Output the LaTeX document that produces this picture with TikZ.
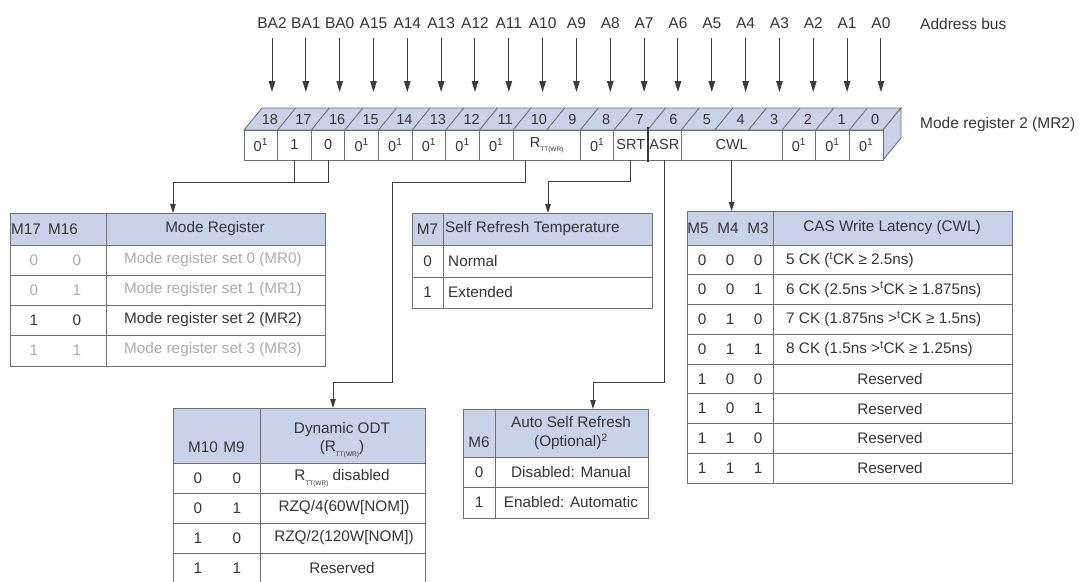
\documentclass[tikz,border=0pt]{standalone}
\usepackage{fontspec}
\setmainfont{Liberation Sans}
\usetikzlibrary{arrows.meta}
\definecolor{headblue}{HTML}{C8D2E8}
\definecolor{linegray}{HTML}{707070}
\definecolor{txt}{HTML}{353535}
\definecolor{dimtxt}{HTML}{ADADAD}
\definecolor{wire}{HTML}{3C3C3C}
\newcommand{\rtt}{R\raisebox{-0.55ex}{\fontsize{6.5}{6.5}\selectfont TT(WR)}}
\newcommand{\zo}{0\textsuperscript{1}}
\begin{document}
\begin{tikzpicture}[x=1pt,y=-1pt,font=\fontsize{15.3}{18}\selectfont,
 every node/.style={inner sep=0pt,text=txt},
 busarrow/.style={draw=wire,line width=1pt,-{Triangle[width=6.5pt,length=11pt]}},
 wirearrow/.style={draw=wire,line width=0.9pt,-{Triangle[width=5.5pt,length=9pt]}},
 wireline/.style={draw=wire,line width=0.9pt},
 regcell/.style={draw=linegray,fill=white,minimum height=30pt,line width=0.9pt,font=\fontsize{14.5}{15}\selectfont},
 tline/.style={draw=linegray,line width=1pt},
 lbl/.style={anchor=base west,font=\fontsize{15.5}{18}\selectfont}]
\useasboundingbox (0,0) rectangle (1081,581);
\fill[white] (0,0) rectangle (1081,581);

% ---------- address bus ----------
\foreach \b/\lab in {18/BA2,17/BA1,16/BA0,15/A15,14/A14,13/A13,12/A12,11/A11,10/A10,9/A9,8/A8,7/A7,6/A6,5/A5,4/A4,3/A3,2/A2,1/A1,0/A0}{
  \pgfmathsetmacro\ax{272+(18-\b)*33.83}
  \node[anchor=base,font=\fontsize{15.5}{18}\selectfont] (a\b) at (\ax,28.5) {\lab};
  \coordinate (p\b) at (\ax,92);
  \draw[busarrow,shorten <=9.5pt] (a\b.south) -- (p\b);
}
\node[lbl] (abus) at (920,29.5) {Address bus};
\node[lbl] (mrlab) at (920,128) {Mode register 2 (MR2)};

% ---------- register ----------
\draw[fill=headblue,draw=linegray,line width=0.9pt] (244,130) -- (262,108) -- (901,108) -- (883,130) -- cycle;
\draw[fill=headblue,draw=linegray,line width=0.9pt] (883,130) -- (901,108) -- (901,138) -- (883,160) -- cycle;
\foreach \i in {1,...,18}{
  \pgfmathsetmacro\sx{244+\i*33.63}
  \draw[linegray,line width=0.9pt] (\sx,130) -- (\sx+18,108);
}
\foreach \b in {0,...,18}{
  \pgfmathsetmacro\nx{244+(18.5-\b)*33.63+9}
  \node[font=\fontsize{14.5}{15}\selectfont] (t\b) at (\nx,119.5) {\b};
}
\foreach \nm/\hi/\n/\tx in {18/18/1/\zo,17/17/1/1,16/16/1/0,15/15/1/\zo,14/14/1/\zo,13/13/1/\zo,12/12/1/\zo,11/11/1/\zo,RTT/10/2/\rtt,8/8/1/\zo,SRT/7/1/SRT,ASR/6/1/ASR,CWL/5/3/CWL,2/2/1/\zo,1/1/1/\zo,0/0/1/\zo}{
  \pgfmathsetmacro\cx{244+(18-\hi+\n/2)*33.63}
  \pgfmathsetmacro\cwd{\n*33.63}
  \node[regcell,minimum width=\cwd pt] (r\nm) at (\cx,145) {\tx};
}
\draw[draw=wire,line width=1.5pt] ([yshift=3pt]rSRT.north east) -- ([yshift=-2pt]rSRT.south east);

% ---------- connectors ----------
\coordinate (jMR) at (173,182);
\coordinate (inMR) at (173,213);
\draw[wireline] (r17.south) -- (r17.south |- jMR);
\draw[wirearrow] (r16.south) |- (jMR) -- (inMR);

\coordinate (rttOut) at ([xshift=13pt]rRTT.south west);
\coordinate (b1) at (392,182);
\coordinate (b2) at (333,382);
\coordinate (inODT) at (333,408);
\draw[wirearrow] (rttOut) |- (b1) |- (b2) -- (inODT);

\coordinate (b3) at (548,181);
\coordinate (inSRT) at (548,213);
\draw[wirearrow] (rSRT.south) |- (b3) -- (inSRT);

\coordinate (b4) at (593,382);
\coordinate (inASR) at (593,409);
\draw[wirearrow] (rASR.south) |- (b4) -- (inASR);

\coordinate (inCWL) at (rCWL.south |- 0,211);
\draw[wirearrow] (rCWL.south) -- (inCWL);

% ---------- Mode Register table ----------
\fill[headblue] (10,213) rectangle (325,245);
\draw[tline] (10,213) rectangle (325,366);
\foreach \y in {245,275,305,335} \draw[tline] (10,\y) -- (325,\y);
\draw[tline] (106,213) -- (106,366);
\node (mrh1) at (26,229) {M17};
\node (mrh2) at (63,229) {M16};
\node (mrh3) at (215,229) {Mode Register};
\foreach \k/\m/\n/\y/\st in {0/0/0/260/dimtxt,1/0/1/290/dimtxt,2/1/0/320/txt,3/1/1/350/dimtxt}{
  \node[text=\st] (mra\k) at (34,\y) {\m};
  \node[text=\st] (mrb\k) at (77,\y) {\n};
  \node[text=\st] (mrc\k) at (213,\y) {Mode register set \k\ (MR\k)};
}

% ---------- Self Refresh Temperature table ----------
\fill[headblue] (412,213) rectangle (652,245);
\draw[tline] (412,213) rectangle (652,308);
\draw[tline] (412,245) -- (652,245);
\draw[tline] (412,277) -- (652,277);
\draw[tline] (443,213) -- (443,308);
\node (srh1) at (427.5,229) {M7};
\node[anchor=west] (srh2) at (445,229) {Self Refresh Temperature};
\node (sra0) at (427.5,261) {0};
\node[anchor=west] (srb0) at (448,261) {Normal};
\node (sra1) at (427.5,292.5) {1};
\node[anchor=west] (srb1) at (448,292.5) {Extended};

% ---------- CWL table ----------
\fill[headblue] (687,211) rectangle (1012,245);
\draw[tline] (687,211) rectangle (1012,483);
\foreach \i in {1,...,7}{
  \pgfmathsetmacro\ly{245+\i*29.75}
  \draw[tline] (687,\ly) -- (1012,\ly);
}
\draw[tline] (687,245) -- (1012,245);
\draw[tline] (773,211) -- (773,483);
\node (cwh1) at (698,228) {M5};
\node (cwh2) at (728,228) {M4};
\node (cwh3) at (758,228) {M3};
\node (cwh4) at (892,228) {CAS Write Latency (CWL)};
\foreach \k/\p/\q/\r in {0/0/0/0,1/0/0/1,2/0/1/0,3/0/1/1,4/1/0/0,5/1/0/1,6/1/1/0,7/1/1/1}{
  \pgfmathsetmacro\ry{245+(\k+0.5)*29.75}
  \node (cwa\k) at (702,\ry) {\p};
  \node (cwb\k) at (730,\ry) {\q};
  \node (cwc\k) at (758,\ry) {\r};
}
\node[anchor=west] (cwd0) at (786,259.9) {5 CK (\textsuperscript{t}CK ≥ 2.5ns)};
\node[anchor=west] (cwd1) at (786,289.6) {6 CK (2.5ns >\textsuperscript{t}CK ≥ 1.875ns)};
\node[anchor=west] (cwd2) at (786,319.4) {7 CK (1.875ns >\textsuperscript{t}CK ≥ 1.5ns)};
\node[anchor=west] (cwd3) at (786,349.1) {8 CK (1.5ns >\textsuperscript{t}CK ≥ 1.25ns)};
\foreach \k in {4,...,7}{
  \pgfmathsetmacro\ry{245+(\k+0.5)*29.75}
  \node (cwd\k) at (890,\ry) {Reserved};
}

% ---------- Dynamic ODT table ----------
\fill[headblue] (173,408) rectangle (425,463);
\draw[tline] (173,408) rectangle (425,583);
\foreach \y in {463,493,523,553} \draw[tline] (173,\y) -- (425,\y);
\draw[tline] (260,408) -- (260,583);
\node (odh1) at (203,447) {M10};
\node (odh2) at (234,447) {M9};
\node (odh3) at (342,430) {Dynamic ODT};
\node (odh4) at (342,449) {(\rtt)};
\node (oda0) at (198,478) {0}; \node (odb0) at (237,478) {0}; \node (odc0) at (342,478) {\rtt\ disabled};
\node (oda1) at (198,508) {0}; \node (odb1) at (237,508) {1}; \node (odc1) at (344,508) {RZQ/4(60W[NOM])};
\node (oda2) at (198,538) {1}; \node (odb2) at (237,538) {0}; \node (odc2) at (344,538) {RZQ/2(120W[NOM])};
\node (oda3) at (198,568) {1}; \node (odb3) at (237,568) {1}; \node (odc3) at (342,568) {Reserved};

% ---------- Auto Self Refresh table ----------
\fill[headblue] (463,409) rectangle (648,457);
\draw[tline] (463,409) rectangle (648,518);
\draw[tline] (463,457) -- (648,457);
\draw[tline] (463,487) -- (648,487);
\draw[tline] (495,409) -- (495,518);
\node (ash1) at (479,442) {M6};
\node (ash2) at (571,422) {Auto Self Refresh};
\node (ash3) at (571,442) {(Optional)\textsuperscript{2}};
\node (asa0) at (479,472) {0};
\node (asb0) at (571,472) {Disabled: Manual};
\node (asa1) at (479,502.5) {1};
\node (asb1) at (571,502.5) {Enabled: Automatic};
\end{tikzpicture}
\end{document}
